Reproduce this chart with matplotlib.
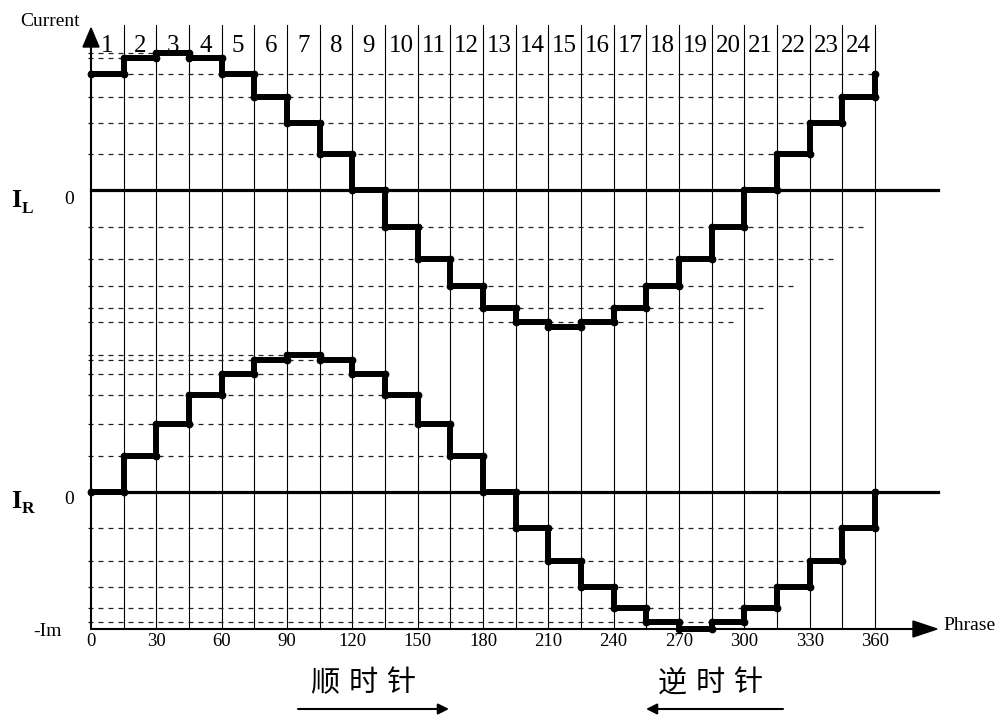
import numpy as np
import matplotlib
matplotlib.use("Agg")
import matplotlib.pyplot as plt

# ---------------- data ----------------
phase_edges = list(range(0, 361, 15))            # 24 intervals of 15 degrees
interval_labels = [str(i) for i in range(1, 25)]
tick_values = list(range(0, 361, 30))

# current level (in units of Im) held in each 15-degree interval
il_levels = [0.85, 0.96, 1.0, 0.96, 0.85, 0.68, 0.49, 0.26, 0.0, -0.27, -0.50, -0.70,
             -0.86, -0.96, -1.0, -0.96, -0.86, -0.70, -0.50, -0.27, 0.0, 0.26, 0.49, 0.68]
ir_levels = [0.0, 0.26, 0.50, 0.71, 0.86, 0.96, 1.0, 0.96, 0.86, 0.71, 0.50, 0.26,
             0.0, -0.26, -0.50, -0.69, -0.85, -0.95, -1.0, -0.95, -0.85, -0.69, -0.50, -0.26]

# dashed guide lines: level and the phase where each guide stops
il_guide_levels = [1.0, 0.96, 0.85, 0.68, 0.49, 0.26, -0.27, -0.50, -0.70, -0.86, -0.96]
il_guide_ends = [30, 15, 360, 345, 330, 315, 357, 342, 324, 310, 297]
ir_guide_levels = [1.0, 0.96, 0.86, 0.71, 0.50, 0.26, -0.26, -0.50, -0.69, -0.85, -0.95]
ir_guide_ends = [105, 120, 135, 150, 165, 180, 345, 330, 315, 300, 285]

# ---------------- layout ----------------
plt.rcParams["font.family"] = ["Liberation Serif", "DejaVu Serif"]
W, H = 1003, 715
X0, XS = 91.0, 784.0 / 360.0      # pixel of phase 0, pixels per degree
Y0, YS = 492.0, 137.0             # pixel of I_R zero, pixels per Im
IL_OFFSET = (492.0 - 190.0) / YS  # vertical offset of the I_L track
BOTTOM = -1.0


def px(p):
    return (p - X0) / XS


def py(p):
    return (Y0 - p) / YS


fig = plt.figure(figsize=(W / 100, H / 100), dpi=100)
ax = fig.add_axes([0, 0, 1, 1])
ax.set_xlim(px(0), px(W))
ax.set_ylim(py(H), py(0))
ax.axis("off")

top = py(25)

# vertical phase grid
for e in phase_edges[1:]:
    ax.plot([e, e], [BOTTOM, top], color="black", lw=0.8, zorder=1)

# dashed guides
for lv, end in zip(il_guide_levels, il_guide_ends):
    ax.plot([px(88), end], [lv + IL_OFFSET] * 2, color="#222222", lw=0.9,
            dashes=(4, 4), zorder=2)
for lv, end in zip(ir_guide_levels, ir_guide_ends):
    ax.plot([px(88), end], [lv] * 2, color="#222222", lw=0.9,
            dashes=(4, 4), zorder=2)

# zero lines
xend_zero = px(938)
ax.plot([0, xend_zero], [IL_OFFSET, IL_OFFSET], color="black", lw=2.3, zorder=3)
ax.plot([0, xend_zero], [0, 0], color="black", lw=2.3, zorder=3)

# axes with arrows
ax.plot([0, px(915)], [BOTTOM, BOTTOM], color="black", lw=1.5, zorder=3)
ax.fill([px(913), px(937), px(913)], [BOTTOM + 8 / YS, BOTTOM, BOTTOM - 8 / YS],
        color="black", zorder=4)
ax.plot([0, 0], [BOTTOM, py(45)], color="black", lw=1.5, zorder=3)
ax.fill([px(83), 0, px(99)], [py(47), py(28), py(47)], color="black", zorder=4)


def stairs(levels, offset):
    edges = np.array(phase_edges, dtype=float)
    xs = np.repeat(edges, 2)[1:-1]
    ys = np.repeat(np.array(levels, dtype=float), 2)
    xs = np.append(xs, edges[-1])
    ys = np.append(ys, levels[0])
    return xs, ys + offset


for lev, off in ((il_levels, IL_OFFSET), (ir_levels, 0.0)):
    xs, ys = stairs(lev, off)
    ax.plot(xs, ys, color="black", lw=4.3, solid_joinstyle="round",
            solid_capstyle="round", marker="o", markersize=4.6, zorder=5)

# interval numbers
for i, lab in enumerate(interval_labels):
    ax.text((phase_edges[i] + phase_edges[i + 1]) / 2, py(46), lab, fontsize=18,
            ha="center", va="center", zorder=6)

# phase tick labels
for t in tick_values:
    ax.text(t, py(642), str(t), fontsize=13.5, ha="center", va="center")
ax.text(px(62), py(632), "-Im", fontsize=14, ha="right", va="center")

ax.text(px(80), py(22), "Current", fontsize=14, ha="right", va="center")
ax.text(px(943), py(625), "Phrase", fontsize=14, ha="left", va="center")

# track labels
for base, sub, yb, ysub in (("I", "L", 207, 213), ("I", "R", 508, 513)):
    ax.text(px(11), py(yb), base, fontsize=19, fontweight="bold", ha="left",
            va="baseline")
    ax.text(px(22), py(ysub), sub, fontsize=12.5, fontweight="bold", ha="left",
            va="baseline")
ax.text(px(69), py(200), "0", fontsize=14, ha="center", va="center")
ax.text(px(69), py(500), "0", fontsize=14, ha="center", va="center")

# rotation direction captions
cjk = ["Noto Sans CJK SC", "DejaVu Sans"]
for ch, cx in zip("顺时针", (325, 363, 401)):
    ax.text(px(cx), py(683), ch, fontsize=21, family=cjk, ha="center", va="center")
for ch, cx in zip("逆时针", (672, 710, 748)):
    ax.text(px(cx), py(683), ch, fontsize=21, family=cjk, ha="center", va="center")

arrow_kw = dict(arrowstyle="-|>", lw=1.5, color="black", mutation_scale=16,
                shrinkA=0, shrinkB=0)
ax.annotate("", xy=(px(449), py(709)), xytext=(px(298), py(709)), arrowprops=arrow_kw)
ax.annotate("", xy=(px(646), py(709)), xytext=(px(783), py(709)), arrowprops=arrow_kw)

fig.savefig("out.png", dpi=100)
